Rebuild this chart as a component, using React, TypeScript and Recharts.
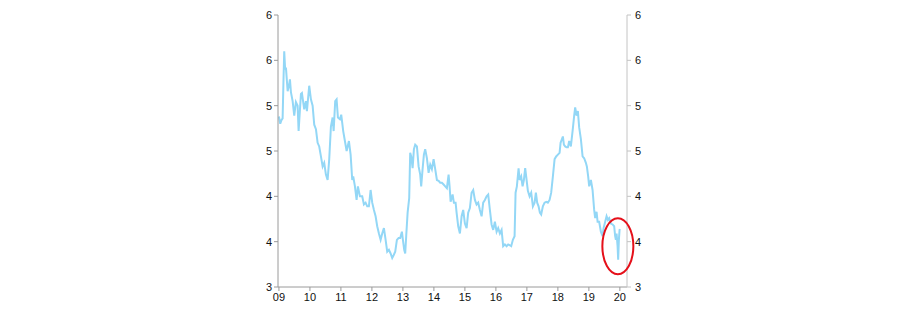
import {
  LineChart,
  Line,
  XAxis,
  YAxis,
  ReferenceDot,
} from "recharts";

// decimal year of each observation
const times = [
  2009.0, 2009.042, 2009.081, 2009.119, 2009.145, 2009.171, 2009.2, 2009.226, 2009.281, 2009.323,
  2009.355, 2009.387, 2009.442, 2009.494, 2009.548, 2009.603, 2009.635, 2009.71, 2009.742, 2009.816,
  2009.871, 2009.903, 2009.977, 2010.032, 2010.087, 2010.139, 2010.194, 2010.248, 2010.3, 2010.355,
  2010.41, 2010.461, 2010.516, 2010.571, 2010.623, 2010.677, 2010.732, 2010.765, 2010.816, 2010.861,
  2010.903, 2010.968, 2011.01, 2011.074, 2011.119, 2011.184, 2011.258, 2011.313, 2011.365, 2011.397,
  2011.452, 2011.506, 2011.548, 2011.613, 2011.687, 2011.742, 2011.797, 2011.848, 2011.903, 2011.958,
  2012.01, 2012.065, 2012.119, 2012.171, 2012.226, 2012.281, 2012.332, 2012.387, 2012.442, 2012.494,
  2012.548, 2012.603, 2012.655, 2012.7, 2012.752, 2012.806, 2012.861, 2012.913, 2012.968, 2013.0,
  2013.042, 2013.074, 2013.106, 2013.152, 2013.203, 2013.235, 2013.268, 2013.313, 2013.355, 2013.397,
  2013.452, 2013.506, 2013.558, 2013.59, 2013.635, 2013.677, 2013.719, 2013.774, 2013.829, 2013.881,
  2013.935, 2013.99, 2014.042, 2014.097, 2014.152, 2014.203, 2014.258, 2014.313, 2014.365, 2014.419,
  2014.474, 2014.506, 2014.539, 2014.603, 2014.645, 2014.7, 2014.732, 2014.784, 2014.839, 2014.894,
  2014.945, 2015.0, 2015.055, 2015.106, 2015.161, 2015.216, 2015.268, 2015.323, 2015.377, 2015.429,
  2015.484, 2015.539, 2015.59, 2015.645, 2015.7, 2015.752, 2015.806, 2015.861, 2015.913, 2015.968,
  2016.023, 2016.074, 2016.129, 2016.184, 2016.235, 2016.29, 2016.345, 2016.397, 2016.452, 2016.494,
  2016.548, 2016.603, 2016.635, 2016.677, 2016.732, 2016.765, 2016.816, 2016.861, 2016.903, 2016.945,
  2016.977, 2017.032, 2017.087, 2017.139, 2017.194, 2017.248, 2017.29, 2017.332, 2017.377, 2017.419,
  2017.461, 2017.516, 2017.571, 2017.623, 2017.677, 2017.732, 2017.784, 2017.839, 2017.894, 2017.945,
  2018.0, 2018.055, 2018.087, 2018.129, 2018.161, 2018.194, 2018.235, 2018.281, 2018.323, 2018.365,
  2018.419, 2018.474, 2018.526, 2018.558, 2018.603, 2018.645, 2018.687, 2018.742, 2018.797, 2018.848,
  2018.903, 2018.935, 2018.977, 2019.01, 2019.065, 2019.119, 2019.171, 2019.203, 2019.248, 2019.281,
  2019.332, 2019.387, 2019.442, 2019.474, 2019.526, 2019.571, 2019.613, 2019.655, 2019.71, 2019.765,
  2019.816, 2019.848, 2019.871, 2019.894, 2019.926, 2019.945, 2019.968, 2019.99, 2020.0,
];

const values = [
  4.88, 4.8, 4.84, 4.86, 5.25, 5.6, 5.4, 5.42, 5.16, 5.22,
  5.29, 5.15, 5.05, 4.89, 5.04, 5.0, 4.72, 5.13, 5.14, 4.96,
  5.05, 4.94, 5.22, 5.07, 5.0, 4.79, 4.74, 4.59, 4.55, 4.44,
  4.33, 4.37, 4.24, 4.18, 4.41, 4.77, 4.87, 4.72, 5.05, 5.07,
  4.87, 4.85, 4.9, 4.72, 4.63, 4.5, 4.61, 4.46, 4.18, 4.22,
  4.11, 3.96, 4.11, 4.0, 4.0, 3.91, 3.93, 3.89, 3.89, 4.07,
  3.93, 3.85, 3.78, 3.67, 3.59, 3.52, 3.59, 3.65, 3.52, 3.39,
  3.41, 3.37, 3.32, 3.35, 3.39, 3.52, 3.54, 3.54, 3.61, 3.52,
  3.41, 3.37, 3.56, 3.82, 3.98, 4.48, 4.44, 4.31, 4.52, 4.57,
  4.55, 4.33, 4.24, 4.11, 4.3, 4.46, 4.52, 4.42, 4.26, 4.35,
  4.3, 4.41, 4.3, 4.18, 4.17, 4.15, 4.15, 4.13, 4.11, 4.09,
  4.24, 4.11, 3.94, 4.02, 3.93, 3.93, 3.82, 3.67, 3.59, 3.78,
  3.85, 3.7, 3.65, 3.82, 3.87, 4.04, 4.07, 3.96, 3.91, 3.93,
  3.85, 3.78, 3.93, 3.96, 4.0, 4.02, 3.85, 3.69, 3.63, 3.72,
  3.61, 3.65, 3.59, 3.63, 3.45, 3.47, 3.45, 3.47, 3.46, 3.45,
  3.52, 3.56, 4.04, 4.11, 4.31, 4.18, 4.22, 4.11, 4.18, 4.31,
  4.22, 4.06, 4.0, 4.04, 3.89, 3.93, 4.04, 3.93, 3.89, 3.82,
  3.8, 3.89, 3.93, 3.94, 3.93, 3.96, 4.04, 4.22, 4.41, 4.44,
  4.46, 4.48, 4.59, 4.63, 4.66, 4.57, 4.55, 4.54, 4.54, 4.61,
  4.55, 4.72, 4.89, 4.98, 4.89, 4.94, 4.76, 4.63, 4.44, 4.42,
  4.37, 4.33, 4.22, 4.11, 4.18, 4.07, 3.85, 3.76, 3.83, 3.72,
  3.72, 3.61, 3.56, 3.65, 3.72, 3.78, 3.74, 3.76, 3.7, 3.69,
  3.67, 3.56, 3.52, 3.59, 3.45, 3.3, 3.52, 3.63, 3.64,
];

const yearTicks = [2009, 2010, 2011, 2012, 2013, 2014, 2015, 2016, 2017, 2018, 2019, 2020];
const valueTicks = [3, 3.5, 4, 4.5, 5, 5.5, 6];

// annotation circle around the latest readings
const markTime = 2019.935;
const markValue = 3.45;

const data = times.map((t, i) => ({ t, v: values[i] }));

const tickFont = { fill: "#111", fontSize: 11, fontFamily: "Liberation Sans, Arial, sans-serif" };

export default function App() {
  return (
    <div style={{ position: "absolute", left: 0, top: 0 }}>
      <LineChart
        width={900}
        height={335}
        data={data}
        margin={{ top: 15, right: 233, bottom: 18, left: 238 }}
      >
        <XAxis
          dataKey="t"
          type="number"
          domain={[2008.97, 2020.23]}
          ticks={yearTicks}
          tickFormatter={(y) => String(y).slice(2)}
          tick={tickFont}
          stroke="#9a9a9a"
          tickSize={4}
          tickMargin={2}
          height={30}
          allowDataOverflow
        />
        <YAxis
          yAxisId="left"
          domain={[3, 6]}
          ticks={valueTicks}
          tickFormatter={(v) => String(Math.round(v))}
          tick={tickFont}
          stroke="#9a9a9a"
          tickSize={4}
          tickMargin={2}
          width={40}
          allowDataOverflow
        />
        <YAxis
          yAxisId="right"
          orientation="right"
          domain={[3, 6]}
          ticks={valueTicks}
          tickFormatter={(v) => String(Math.round(v))}
          tick={tickFont}
          stroke="#c4c4c4"
          tickSize={4}
          tickMargin={4}
          width={40}
          allowDataOverflow
        />
        {/* invisible copy so the right axis gets its ticks */}
        <Line
          yAxisId="right"
          dataKey="v"
          stroke="none"
          dot={false}
          activeDot={false}
          legendType="none"
          isAnimationActive={false}
        />
        <Line
          yAxisId="left"
          dataKey="v"
          type="linear"
          stroke="#93d7f6"
          strokeWidth={2}
          dot={false}
          isAnimationActive={false}
        />
        <ReferenceDot
          yAxisId="left"
          x={markTime}
          y={markValue}
          ifOverflow="visible"
          shape={(p: any) => (
            <ellipse
              cx={p.cx}
              cy={p.cy}
              rx={15.5}
              ry={28}
              fill="none"
              stroke="#e5101a"
              strokeWidth={2}
            />
          )}
        />
      </LineChart>
    </div>
  );
}
